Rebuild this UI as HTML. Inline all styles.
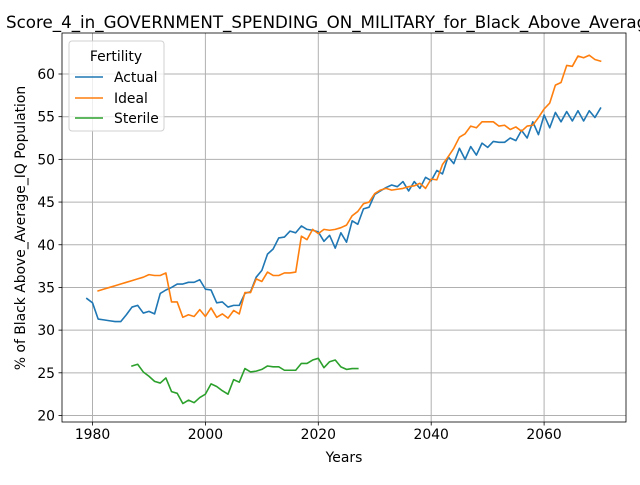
<!DOCTYPE html>
<html><head><meta charset="utf-8"><style>
body{margin:0;background:#fff;font-family:"Liberation Sans","DejaVu Sans",sans-serif;position:relative}
svg text{font-family:"DejaVu Sans","Liberation Sans",sans-serif}
</style></head><body>
<svg id="chart" width="640" height="480" xmlns="http://www.w3.org/2000/svg"></svg>
<script>
const actualStart = 1979;
const actualValues = [33.7,33.2,31.3,31.2,31.1,31.0,31.0,31.8,32.7,32.9,32.0,32.2,31.9,34.3,34.7,35.0,35.4,35.4,35.6,35.6,35.9,34.8,34.7,33.2,33.3,32.7,32.9,32.9,34.3,34.5,36.2,37.0,38.9,39.5,40.8,40.9,41.6,41.4,42.2,41.8,41.7,41.5,40.4,41.1,39.6,41.4,40.3,42.8,42.4,44.2,44.4,45.9,46.3,46.7,47.0,46.8,47.4,46.3,47.4,46.6,47.9,47.5,48.7,48.3,50.3,49.5,51.3,50.0,51.5,50.5,51.9,51.4,52.1,52.0,52.0,52.5,52.2,53.4,52.5,54.4,52.9,55.2,53.7,55.5,54.4,55.6,54.5,55.7,54.5,55.7,54.9,56.0];
const idealStart = 1981;
const idealValues = [34.6,34.8,35.0,35.2,35.4,35.6,35.8,36.0,36.2,36.5,36.4,36.4,36.7,33.3,33.3,31.5,31.8,31.6,32.4,31.6,32.6,31.5,31.9,31.4,32.3,31.9,34.4,34.4,36.0,35.7,36.8,36.4,36.4,36.7,36.7,36.8,41.0,40.6,41.8,41.3,41.8,41.7,41.8,42.0,42.3,43.4,43.9,44.8,45.0,46.0,46.4,46.6,46.4,46.5,46.6,46.8,46.9,47.2,46.6,47.7,47.6,49.4,50.3,51.3,52.6,53.0,53.9,53.7,54.4,54.4,54.4,53.9,54.0,53.5,53.8,53.3,53.9,54.0,54.9,55.9,56.6,58.7,59.0,61.0,60.9,62.1,61.9,62.2,61.7,61.5];
const sterileStart = 1987;
const sterileValues = [25.8,26.0,25.1,24.6,24.0,23.8,24.4,22.8,22.6,21.4,21.8,21.5,22.1,22.5,23.7,23.4,22.9,22.5,24.2,23.9,25.5,25.1,25.2,25.4,25.8,25.7,25.7,25.3,25.3,25.3,26.1,26.1,26.5,26.7,25.6,26.3,26.5,25.7,25.4,25.5,25.5];
const xTicks = [1980,2000,2020,2040,2060];
const yTicks = [20,25,30,35,40,45,50,55,60];

const L=62,R=626,T=33,B=422;
const xs = v => 92.5 + (v-1980)*5.645;
const ys = v => 415.5 - (v-20)*8.5375;
const svg=document.getElementById('chart');
const NS='http://www.w3.org/2000/svg';
function mk(tag,attrs,parent){const e=document.createElementNS(NS,tag);for(const k in attrs)e.setAttribute(k,attrs[k]);(parent||svg).appendChild(e);return e;}

xTicks.forEach(t=>{const g=mk('line',{x1:xs(t),x2:xs(t),y1:T,y2:B,stroke:'#b0b0b0','stroke-width':1});

});
yTicks.forEach(t=>{const g=mk('line',{x1:L,x2:R,y1:ys(t),y2:ys(t),stroke:'#b0b0b0','stroke-width':1});

});

function series(start,vals,color,name){
  const pts=vals.map((v,i)=>xs(start+i).toFixed(2)+','+ys(v).toFixed(2)).join(' ');
  const p=mk('polyline',{points:pts,fill:'none',stroke:color,'stroke-width':1.6,'stroke-linejoin':'round','stroke-linecap':'square'});
  
  
}
series(actualStart,actualValues,'#1f77b4','actual-line');
series(idealStart,idealValues,'#ff7f0e','ideal-line');
series(sterileStart,sterileValues,'#2ca02c','sterile-line');

const fr=mk('rect',{x:L,y:T,width:R-L,height:B-T,fill:'none',stroke:'#000','stroke-width':0.8});



xTicks.forEach(t=>{
  mk('line',{x1:xs(t),x2:xs(t),y1:B,y2:B+3.5,stroke:'#000','stroke-width':0.8});
  const tx=mk('text',{x:xs(t),y:B+17,'text-anchor':'middle','font-size':'13.9px',fill:'#000'});tx.textContent=t;
  
  
});
yTicks.forEach(t=>{
  mk('line',{x1:L-3.5,x2:L,y1:ys(t),y2:ys(t),stroke:'#000','stroke-width':0.8});
  const tx=mk('text',{x:L-7,y:ys(t)+5,'text-anchor':'end','font-size':'13.9px',fill:'#000'});tx.textContent=t;
  
  
});
</script>
<svg width="640" height="480" style="position:absolute;left:0;top:0" xmlns="http://www.w3.org/2000/svg">
<text x="6" y="28" text-anchor="start" font-size="16.7px" fill="#000">Score_4_in_GOVERNMENT_SPENDING_ON_MILITARY_for_Black_Above_Average_IQ</text>
<text x="344" y="462" text-anchor="middle" font-size="13.9px" fill="#000">Years</text>
<text transform="translate(25,228) rotate(-90)" text-anchor="middle" font-size="13.9px" fill="#000">% of Black Above_Average_IQ Population</text>
<g>
<rect x="69" y="41" width="95" height="90" rx="3" fill="#fff" fill-opacity="0.8" stroke="#d0d0d0"/>
<text x="116" y="61" text-anchor="middle" font-size="13.9px">Fertility</text>
<line x1="75" x2="103" y1="77" y2="77" stroke="#1f77b4" stroke-width="1.5"/>
<text x="114" y="82" font-size="13.9px">Actual</text>
<line x1="75" x2="103" y1="98" y2="98" stroke="#ff7f0e" stroke-width="1.5"/>
<text x="114" y="103" font-size="13.9px">Ideal</text>
<line x1="75" x2="103" y1="118" y2="118" stroke="#2ca02c" stroke-width="1.5"/>
<text x="114" y="123" font-size="13.9px">Sterile</text>
</g>
</svg>
</body></html>
